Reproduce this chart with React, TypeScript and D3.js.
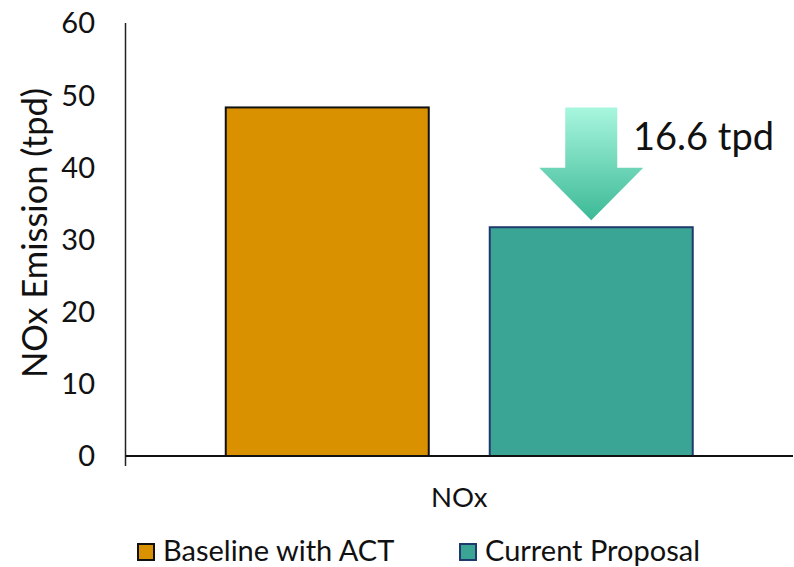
import React from "react";
import * as d3 from "d3";

// Category, series and values
const categories: string[] = ["NOx"];
const seriesNames: string[] = ["Baseline with ACT", "Current Proposal"];
const seriesValues: number[] = [48.3, 31.7];
const seriesFill: string[] = ["#D99100", "#3AA594"];
const seriesStroke: string[] = ["#111111", "#1F3A6E"];
const yTicks: number[] = [0, 10, 20, 30, 40, 50, 60];
const reductionLabel = "16.6 tpd";

const W = 794;
const H = 567;
const FONT = "Lato, 'Open Sans', sans-serif";

export default function App() {
  const y = d3.scaleLinear().domain([0, 60]).range([456, 23]);
  const x = d3
    .scaleBand<string>()
    .domain(categories)
    .range([125.5, 793])
    .paddingInner(0)
    .paddingOuter(0.2147);
  const xs = d3
    .scaleBand<string>()
    .domain(seriesNames)
    .range([0, x.bandwidth()])
    .paddingInner(0.231);

  // Reduction arrow: from the baseline level down toward the proposal bar
  const cx = (x(categories[0]) ?? 0) + (xs(seriesNames[1]) ?? 0) + xs.bandwidth() / 2;
  const arrowTop = y(seriesValues[0]);
  const arrowTip = y(seriesValues[1]) - 7;
  const headY = arrowTop + (arrowTip - arrowTop) * 0.535;
  const shaftHalf = 26;
  const headHalf = 52;
  const arrowPath = d3.path();
  arrowPath.moveTo(cx - shaftHalf, arrowTop);
  arrowPath.lineTo(cx + shaftHalf, arrowTop);
  arrowPath.lineTo(cx + shaftHalf, headY);
  arrowPath.lineTo(cx + headHalf, headY);
  arrowPath.lineTo(cx, arrowTip);
  arrowPath.lineTo(cx - headHalf, headY);
  arrowPath.lineTo(cx - shaftHalf, headY);
  arrowPath.closePath();

  const legendX = [137, 459];

  return (
    <svg
      width={W}
      height={H}
      viewBox={`0 0 ${W} ${H}`}
      style={{ position: "absolute", left: 0, top: 0, background: "#fff" }}
      fontFamily={FONT}
    >
      <defs>
        <linearGradient id="arrowGrad" x1="0" y1="0" x2="0" y2="1">
          <stop offset="0%" stopColor="#A8F6DE" />
          <stop offset="100%" stopColor="#3CB996" />
        </linearGradient>
      </defs>

      {/* y tick labels */}
      {yTicks.map((t) => (
        <text
          key={t}
          x={95}
          y={y(t)}
          dy="0.36em"
          textAnchor="end"
          fontSize={29}
          fill="#111"
        >
          {t}
        </text>
      ))}

      {/* y axis title */}
      <text
        transform={`translate(47, ${233}) rotate(-90)`}
        textAnchor="middle"
        fontSize={34.5}
        fill="#111"
      >
        NOx Emission (tpd)
      </text>

      {/* bars */}
      {categories.map((c) =>
        seriesNames.map((s, i) => (
          <rect
            key={c + s}
            x={(x(c) ?? 0) + (xs(s) ?? 0)}
            y={y(seriesValues[i])}
            width={xs.bandwidth()}
            height={y(0) - y(seriesValues[i])}
            fill={seriesFill[i]}
            stroke={seriesStroke[i]}
            strokeWidth={2}
          />
        ))
      )}

      {/* axes */}
      <line x1={125.5} x2={125.5} y1={y(60)} y2={466} stroke="#222" strokeWidth={1.5} />
      <line x1={125.5} x2={793} y1={y(0)} y2={y(0)} stroke="#111" strokeWidth={2} />

      {/* category label */}
      {categories.map((c) => (
        <text
          key={c}
          x={(x(c) ?? 0) + x.bandwidth() / 2}
          y={507}
          textAnchor="middle"
          fontSize={27.5}
          fill="#111"
        >
          {c}
        </text>
      ))}

      {/* reduction annotation */}
      <path d={arrowPath.toString()} fill="url(#arrowGrad)" />
      <text x={633} y={150} fontSize={38} fill="#111">
        {reductionLabel}
      </text>

      {/* legend */}
      {seriesNames.map((s, i) => (
        <g key={s} transform={`translate(${legendX[i]}, 543)`}>
          <rect
            x={1}
            y={1}
            width={16}
            height={16}
            fill={seriesFill[i]}
            stroke={seriesStroke[i]}
            strokeWidth={2}
          />
          <text x={26} y={17.5} fontSize={29} fill="#111">
            {s}
          </text>
        </g>
      ))}
    </svg>
  );
}
